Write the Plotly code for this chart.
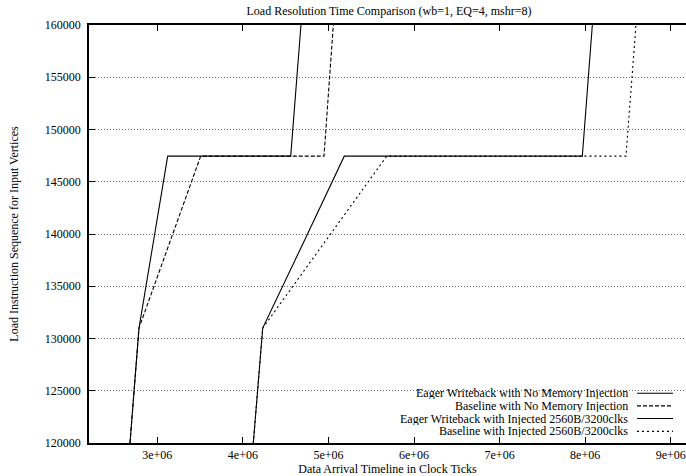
import plotly.graph_objects as go

# ---- data ----
ew_noinj_x = [2.681e6, 2.786e6, 3.1215e6, 4.559e6, 4.679e6]
ew_noinj_y = [120000, 131000, 147450, 147450, 160000]

base_noinj_x = [2.681e6, 2.786e6, 3.507e6, 4.948e6, 5.057e6]
base_noinj_y = [120000, 131000, 147450, 147450, 160000]

ew_inj_x = [4.122e6, 4.232e6, 4.703e6, 5.185e6, 7.967e6, 8.084e6]
ew_inj_y = [120000, 131000, 139100, 147450, 147450, 160000]

base_inj_x = [4.122e6, 4.232e6, 5.681e6, 8.477e6, 8.594e6]
base_inj_y = [120000, 131000, 147450, 147450, 160000]

series_names = [
    "Eager Writeback with No Memory Injection",
    "Baseline with No Memory Injection",
    "Eager Writeback with Injected 2560B/3200clks",
    "Baseline with Injected 2560B/3200clks",
]
series_dash = ["solid", "4px,2px", "solid", "2px,3px"]

x_tickvals = [3e6, 4e6, 5e6, 6e6, 7e6, 8e6, 9e6]
x_ticktext = ["3e+06", "4e+06", "5e+06", "6e+06", "7e+06", "8e+06", "9e+06"]
y_tickvals = [120000, 125000, 130000, 135000, 140000, 145000, 150000, 155000, 160000]
y_ticktext = [str(v) for v in y_tickvals]

FONT = "Liberation Serif"

fig = go.Figure()
xs = [ew_noinj_x, base_noinj_x, ew_inj_x, base_inj_x]
ys = [ew_noinj_y, base_noinj_y, ew_inj_y, base_inj_y]
for x, y, name, dash in zip(xs, ys, series_names, series_dash):
    fig.add_trace(go.Scatter(
        x=x, y=y, mode="lines", name=name,
        line=dict(color="black", width=1.1, dash=dash),
        showlegend=False,
    ))

# manual gnuplot-style key (text right-aligned, sample on the right)
shapes = [
    dict(type="rect", xref="paper", yref="paper", x0=0.357, x1=1.0, y0=0.0, y1=0.135,
         fillcolor="white", line=dict(width=0), layer="between"),
]
annotations = []
key_y_px = [393.0, 405.6, 418.2, 431.1]
for name, dash, ypx in zip(series_names, series_dash, key_y_px):
    yp = (442.7 - ypx) / 418.0
    annotations.append(dict(
        xref="paper", yref="paper", x=(629 - 89) / 597.0, y=yp,
        text=name, showarrow=False, xanchor="right", yanchor="middle",
        height=12, borderpad=0,
        font=dict(family=FONT, size=12, color="black"),
    ))
    shapes.append(dict(
        type="line", xref="paper", yref="paper",
        x0=(637 - 89) / 597.0, x1=(673 - 89) / 597.0, y0=yp, y1=yp,
        line=dict(color="black", width=1.1, dash=dash), layer="above",
    ))

fig.update_layout(
    width=686, height=476,
    margin=dict(l=89, r=0, t=25, b=33),
    paper_bgcolor="white", plot_bgcolor="white",
    font=dict(family=FONT, size=12, color="black"),
    title=dict(text="Load Resolution Time Comparison (wb=1, EQ=4, mshr=8)",
               x=389 / 686.0, xanchor="center", y=1 - 11 / 476.0, yanchor="middle",
               font=dict(family=FONT, size=12, color="black")),
    shapes=shapes,
    annotations=annotations,
    showlegend=False,
)

fig.update_xaxes(
    range=[2.2018e6, 9.1786e6],
    tickvals=x_tickvals, ticktext=x_ticktext,
    ticks="inside", ticklen=6, tickcolor="black", tickwidth=1,
    showline=True, linecolor="black", linewidth=1.5, mirror="ticks",
    showgrid=False, zeroline=False,
    tickfont=dict(family=FONT, size=12, color="black"),
    title=dict(text="Data Arrival Timeline in Clock Ticks", standoff=0,
               font=dict(family=FONT, size=12, color="black")),
)
fig.update_yaxes(
    range=[120000, 160000],
    tickvals=y_tickvals, ticktext=y_ticktext,
    ticks="inside", ticklen=6, tickcolor="black", tickwidth=1,
    ticklabelstandoff=4,
    showline=True, linecolor="black", linewidth=1.5, mirror=False,
    showgrid=True, gridcolor="#666666", griddash="1px,2px", gridwidth=1,
    zeroline=False,
    tickfont=dict(family=FONT, size=12, color="black"),
    title=dict(text="Load Instruction Sequence for Input Vertices", standoff=24,
               font=dict(family=FONT, size=12, color="black")),
)

fig.write_html(
    "out.html",
    config={"displayModeBar": False},
    post_script="document.body.style.margin='0';document.body.style.padding='0';",
)
